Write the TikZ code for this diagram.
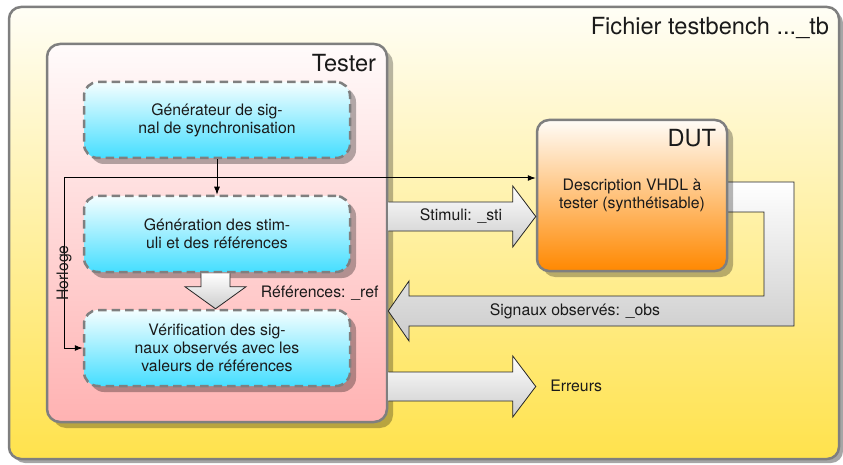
\documentclass[tikz,border=0pt]{standalone}
\usepackage{fontspec}
\setmainfont{TeX Gyre Heros}
\usetikzlibrary{shadows,calc,arrows.meta}

\definecolor{frameGray}{HTML}{7F7F7F}
\definecolor{fileTop}{HTML}{FFFEF6}
\definecolor{fileBottom}{HTML}{FFE24C}
\definecolor{testerTop}{HTML}{FFFBFB}
\definecolor{testerBottom}{HTML}{FFB2B2}
\definecolor{taskTop}{HTML}{F4FEFF}
\definecolor{taskBottom}{HTML}{45DEFF}
\definecolor{dutTop}{HTML}{FFFCF7}
\definecolor{dutBottom}{HTML}{FF8800}
\definecolor{inkColor}{HTML}{1A1A1A}

% horizontal block arrow from #1 (tail) to #2 (tip)
\newcommand{\hblockarrow}[2]{%
  \path[arrowfill] ($(#1)+(0,-14.5)$) -- ($(#2)+(-23,-14.5)$) -- ($(#2)+(-23,-30.5)$)
    -- (#2) -- ($(#2)+(-23,30.5)$) -- ($(#2)+(-23,14.5)$) -- ($(#1)+(0,14.5)$) -- cycle;
  \draw[arrowline] ($(#1)+(0,-14.5)$) -- ($(#2)+(-23,-14.5)$) -- ($(#2)+(-23,-30.5)$)
    -- (#2) -- ($(#2)+(-23,30.5)$) -- ($(#2)+(-23,14.5)$) -- ($(#1)+(0,14.5)$);}

\begin{document}
\begin{tikzpicture}[x=1pt,y=-1pt,
  every node/.style={text=inkColor},
  bodytext/.style={font=\fontsize{15.8}{18}\selectfont},
  titletext/.style={font=\fontsize{23.6}{27}\selectfont, inner sep=0pt},
  filebox/.style={draw=frameGray, line width=2.5pt, rounded corners=12pt,
    top color=fileTop, bottom color=fileBottom,
    drop shadow={shadow xshift=4pt, shadow yshift=-4pt, fill=black, opacity=0.35},
    minimum width=830pt, minimum height=452pt, inner sep=0pt},
  testerbox/.style={draw=frameGray, line width=2.5pt, rounded corners=13pt,
    top color=testerTop, bottom color=testerBottom,
    drop shadow={shadow xshift=6pt, shadow yshift=-6pt, fill=black, opacity=0.28},
    minimum width=340pt, minimum height=378pt, inner sep=0pt},
  taskbox/.style={draw=frameGray, line width=2.5pt, dash pattern=on 8.5pt off 5pt,
    rounded corners=14pt, top color=taskTop, bottom color=taskBottom,
    drop shadow={shadow xshift=6pt, shadow yshift=-6pt, fill=black, opacity=0.3},
    minimum width=266pt, minimum height=76pt, inner sep=0pt, align=center, bodytext},
  dutbox/.style={draw=frameGray, line width=2.5pt, rounded corners=12pt,
    top color=dutTop, bottom color=dutBottom,
    drop shadow={shadow xshift=6pt, shadow yshift=-6pt, fill=black, opacity=0.28},
    minimum width=190pt, minimum height=151pt, inner sep=0pt, align=center, bodytext},
  arrowfill/.style={top color=white, bottom color=black!20},
  arrowline/.style={draw=black!85, line width=0.8pt, line join=miter},
  signal/.style={draw=black, line width=1pt, -{Latex[length=8pt,width=6pt]}},
]
\useasboundingbox (0,0) rectangle (843,465);

% testbench file
\node[filebox] (file) at (424,233) {};
\node[titletext, anchor=base east] (filelbl) at ($(file.north east)+(-11,29)$) {Fichier testbench ...\_tb};

% tester
\node[testerbox] (tester) at (217,233) {};
\node[titletext, anchor=base east] (testerlbl) at ($(tester.north east)+(-12,29)$) {Tester};

\node[taskbox] (gen) at (217,120) {Générateur de sig-\\nal de synchronisation};
\node[taskbox] (stim) at (217,234) {Génération des stim-\\uli et des références};
\node[taskbox] (verif) at (217,348) {Vérification des sig-\\naux observés avec les\\valeurs de références};

% observed signals (drawn below the DUT)
\path[arrowfill] (720,182) -- (794,182) -- (794,326) -- (409,326) -- (409,341)
  -- (tester.east |- 0,311) -- (409,281) -- (409,296) -- (764,296) -- (764,212) -- (720,212) -- cycle;
\draw[arrowline] (720,182) -- (794,182) -- (794,326) -- (409,326) -- (409,341)
  -- (tester.east |- 0,311) -- (409,281) -- (409,296) -- (764,296) -- (764,212) -- (720,212);
\node[bodytext, anchor=base] (obslbl) at (575,315) {Signaux observés: \_obs};

% device under test
\node[dutbox] (dut) at (632,195.5) {Description VHDL à\\tester (synthétisable)};
\node[titletext, anchor=base east] (dutlbl) at ($(dut.north east)+(-12,28)$) {DUT};

% stimuli
\coordinate (stiTip) at (dut.west |- 0,216.5);
\coordinate (stiTail) at (tester.east |- stiTip);
\hblockarrow{stiTail}{stiTip}
\node[bodytext, anchor=base] (stilbl) at (461,221) {Stimuli: \_sti};

% errors
\coordinate (errTip) at (dut.west |- 0,386.5);
\coordinate (errTail) at (tester.east |- errTip);
\hblockarrow{errTail}{errTip}
\node[bodytext, anchor=base west] (errlbl) at ($(errTip)+(11,5)$) {Erreurs};

% references
\coordinate (refTail) at ($(stim.south)+(-1.5,0)$);
\coordinate (refTip) at ($(verif.north)+(-1.5,0)$);
\path[arrowfill] ($(refTail)+(-14.5,0)$) -- ($(refTip)+(-14.5,-22)$) -- ($(refTip)+(-30.5,-22)$)
  -- (refTip) -- ($(refTip)+(30.5,-22)$) -- ($(refTip)+(14.5,-22)$) -- ($(refTail)+(14.5,0)$) -- cycle;
\draw[arrowline] ($(refTail)+(-14.5,0)$) -- ($(refTip)+(-14.5,-22)$) -- ($(refTip)+(-30.5,-22)$)
  -- (refTip) -- ($(refTip)+(30.5,-22)$) -- ($(refTip)+(14.5,-22)$) -- ($(refTail)+(14.5,0)$);
\node[bodytext, anchor=base east] (reflbl) at (382,297) {Références: \_ref};

% synchronisation and clock
\draw[signal] (gen.south) -- (stim.north);
\coordinate (clk) at (64,178);
\draw[signal] (clk) -- (dut.west |- clk);
\draw[signal] (clk) |- (verif.west);
\node[bodytext, rotate=90, inner sep=0pt] (clklbl) at (64,273) {Horloge};

\end{tikzpicture}
\end{document}
